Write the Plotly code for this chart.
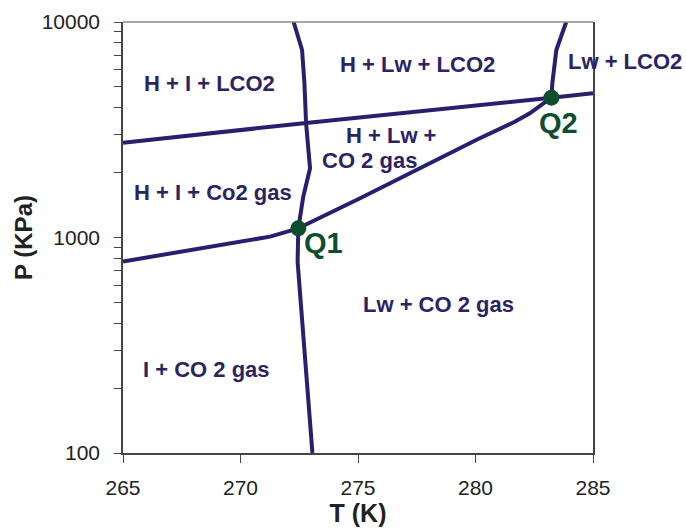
import plotly.graph_objects as go
import math

# ---- data (T in K, P in kPa) ----
line_a_T = [272.26, 272.62, 272.72, 272.79, 272.89, 272.96, 272.67, 272.46, 272.43, 273.06]
line_a_P = [10000, 7415, 5211, 3399, 2547, 2095, 1546, 1103, 770, 100]

line_b_T = [265.0, 272.79, 283.23, 285.0]
line_b_P = [2754, 3399, 4454, 4668]

line_c_T = [265.0, 271.26, 272.46]
line_c_P = [774, 1009, 1103]

line_d_T = [272.46, 275.09, 280.03, 281.67, 282.31, 283.23]
line_d_P = [1103, 1520, 2834, 3446, 3770, 4454]

line_e_T = [283.23, 283.27, 283.44, 283.86]
line_e_P = [4454, 5195, 7415, 10000]

quad_names = ["Q1", "Q2"]
quad_T = [272.46, 283.23]
quad_P = [1103, 4454]

region_labels = ["H + I + LCO2", "H + Lw + LCO2", "H + Lw +", "CO 2 gas",
                 "H + I + Co2 gas", "Lw + CO 2 gas", "I + CO 2 gas"]
region_T = [268.70, 277.55, 276.40, 275.49, 268.81, 278.43, 268.55]
region_P = [5157, 6318, 2989, 2265, 1626, 491, 245]

# label placed right of the plot area (outside the T range)
outside_label = "Lw + LCO2"
outside_label_T = 286.38
outside_label_P = 6592

quad_label_T = [273.55, 283.55]
quad_label_P = [943, 3399]

x_ticks = [265, 270, 275, 280, 285]
y_ticks = [100, 1000, 10000]
y_minor = [200, 300, 400, 500, 600, 700, 800, 900,
           2000, 3000, 4000, 5000, 6000, 7000, 8000, 9000]

X_MIN, X_MAX = 265, 285

LINE = "#2a1f6e"
TEXT = "#2b2463"
GREEN = "#0e4d2e"
FONT = "Liberation Sans, Arial, sans-serif"

fig = go.Figure()
for tx, py in [(line_a_T, line_a_P), (line_b_T, line_b_P), (line_c_T, line_c_P),
               (line_d_T, line_d_P), (line_e_T, line_e_P)]:
    fig.add_trace(go.Scatter(x=tx, y=py, mode="lines",
                             line=dict(color=LINE, width=4),
                             showlegend=False, hoverinfo="skip"))

fig.add_trace(go.Scatter(x=quad_T, y=quad_P, mode="markers",
                         marker=dict(color=GREEN, size=16),
                         showlegend=False, cliponaxis=False, hoverinfo="skip"))

label_font = dict(family=FONT, size=22, color=TEXT, weight="bold")
for txt, t, p in zip(region_labels, region_T, region_P):
    fig.add_annotation(x=t, y=math.log10(p), xref="x", yref="y", text=txt,
                       showarrow=False, font=label_font,
                       xanchor="center", yanchor="middle")

fig.add_annotation(x=(outside_label_T - X_MIN) / (X_MAX - X_MIN), xref="paper",
                   y=math.log10(outside_label_P), yref="y", text=outside_label,
                   showarrow=False, font=label_font,
                   xanchor="center", yanchor="middle")

for txt, t, p in zip(quad_names, quad_label_T, quad_label_P):
    fig.add_annotation(x=t, y=math.log10(p), xref="x", yref="y", text=txt,
                       showarrow=False, xanchor="center", yanchor="middle",
                       font=dict(family=FONT, size=29, color=GREEN, weight="bold"))

# top border (lighter gray)
fig.add_shape(type="line", xref="paper", yref="paper", x0=0, x1=1, y0=1, y1=1,
              line=dict(color="#8a8a8a", width=1.5))

fig.update_layout(
    width=686, height=529,
    margin=dict(l=123, r=93, t=22, b=76, autoexpand=False),
    plot_bgcolor="white", paper_bgcolor="white",
    font=dict(family=FONT, color="#222222"),
    hovermode=False,
)
fig.update_xaxes(
    range=[X_MIN, X_MAX], tickvals=x_ticks, ticktext=[str(v) for v in x_ticks],
    showgrid=False, zeroline=False, automargin=False,
    showline=True, linecolor="#444444", linewidth=1.5,
    ticks="outside", ticklen=8, tickcolor="#444444",
    ticklabelstandoff=7,
    tickfont=dict(size=21, color="#222222", family=FONT),
    title=dict(text="T (K)", font=dict(size=25, color="#222222", family=FONT, weight="bold"),
               standoff=4),
)
fig.update_yaxes(
    type="log", range=[2, 4], tickvals=y_ticks, ticktext=[str(v) for v in y_ticks],
    showgrid=False, zeroline=False, automargin=False,
    showline=True, linecolor="#444444", linewidth=1.5, mirror=True,
    ticks="outside", ticklen=7, tickcolor="#444444",
    ticklabelstandoff=10,
    tickfont=dict(size=21, color="#222222", family=FONT),
    minor=dict(tickmode="array", tickvals=y_minor, ticks="outside", ticklen=7,
               tickcolor="#444444", showgrid=False),
    title=dict(text="P (KPa)", font=dict(size=24, color="#222222", family=FONT, weight="bold"),
               standoff=2),
)

# remove the browser's default 8px body margin so the figure fills the window
fig.write_html("out.html",
               config={"displayModeBar": False},
               post_script="document.body.style.margin='0px';"
                           "document.body.style.overflow='hidden';")
